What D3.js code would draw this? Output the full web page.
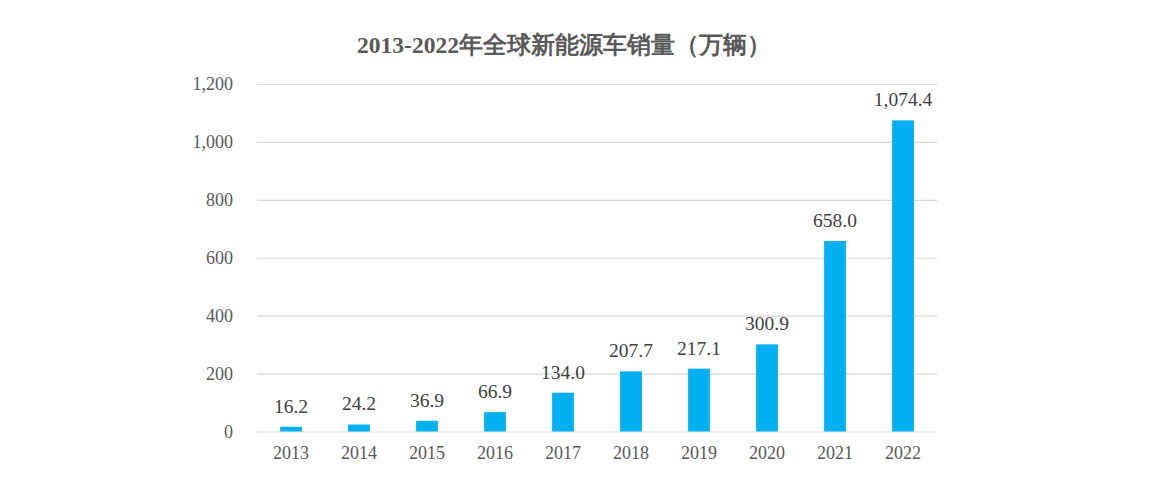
<!DOCTYPE html>
<html><head><meta charset="utf-8">
<script src="https://cdn.jsdelivr.net/npm/d3@7"></script>
<style>body{margin:0;background:#fff}</style>
</head><body>
<svg id="c" width="1150" height="500"></svg>
<script>
const categories = ["2013","2014","2015","2016","2017","2018","2019","2020","2021","2022"];
const sales = [16.2,24.2,36.9,66.9,134.0,207.7,217.1,300.9,658.0,1074.4];
const yTicks = [0,200,400,600,800,1000,1200];
const title = "2013-2022年全球新能源车销量（万辆）";

const svg = d3.select("#c");
const font = "'Liberation Serif','Times New Roman',serif";
const mLeft = 257, mRight = 937, mTop = 84, mBottom = 431.5;
const x = d3.scaleBand().domain(categories).range([mLeft, mRight]).paddingInner(0.68).paddingOuter(0.34);
const y = d3.scaleLinear().domain([0,1200]).range([mBottom, mTop]);

svg.append("text").attr("x",564).attr("y",53).attr("text-anchor","middle")
  .attr("font-family",font).attr("font-weight","bold").attr("font-size",23.5).attr("fill","#595959").text(title);

const yAxis = svg.append("g").attr("transform",`translate(${mLeft},0)`)
  .call(d3.axisLeft(y).tickValues(yTicks).tickSize(-(mRight-mLeft)).tickPadding(24).tickFormat(d3.format(",")));
yAxis.select(".domain").remove();
yAxis.selectAll("line").attr("stroke","#d9d9d9").attr("stroke-width",1.2);
yAxis.selectAll("text").attr("font-family",font).attr("font-size",18).attr("fill","#595959");

const xAxis = svg.append("g").attr("transform",`translate(0,${mBottom})`)
  .call(d3.axisBottom(x).tickSize(0).tickPadding(15));
xAxis.select(".domain").remove();
xAxis.selectAll("text").attr("font-family",font).attr("font-size",18).attr("fill","#595959");

svg.append("g").selectAll("rect").data(sales).join("rect")
  .attr("x",(d,i)=>x(categories[i])).attr("width",x.bandwidth())
  .attr("y",d=>y(d)).attr("height",d=>mBottom-y(d)).attr("fill","#00B0F0");

svg.append("g").selectAll("text").data(sales).join("text")
  .attr("x",(d,i)=>x(categories[i])+x.bandwidth()/2).attr("y",d=>y(d)-14)
  .attr("text-anchor","middle").attr("font-family",font).attr("font-size",19.5).attr("fill","#404040")
  .text(d=>d3.format(",.1f")(d));
</script>
</body></html>
